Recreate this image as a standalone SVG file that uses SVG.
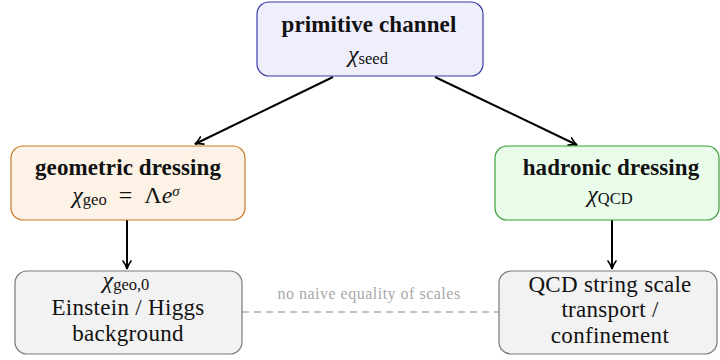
<svg xmlns="http://www.w3.org/2000/svg" width="720" height="360" viewBox="0 0 720 360" font-family="'Liberation Serif', 'DejaVu Serif', serif">
  <defs>
    <marker id="arrow" viewBox="0 0 10 10" refX="9" refY="5" markerWidth="10" markerHeight="10" markerUnits="userSpaceOnUse" orient="auto">
      <path d="M1,1 Q5,4 9,5 Q5,6 1,9" fill="none" stroke="#000" stroke-width="1.6" stroke-linecap="round"/>
    </marker>
    <style>
      text { font-family: 'Liberation Serif', 'DejaVu Serif', serif; fill: #111; text-anchor: middle; }
      .title { font-weight: bold; font-size: 23px; letter-spacing: 0.1px; }
      .body { font-size: 23px; letter-spacing: 0.3px; }
      .math { font-style: italic; font-size: 24px; }
      .sub { font-size: 16.5px; font-style: normal; }
      .sup { font-size: 15px; font-style: italic; }
      .note { font-size: 16px; fill: #a8a8a8; letter-spacing: 0.5px; }
      .box { stroke-width: 1.2; }
      .edge { stroke: #000; stroke-width: 2; fill: none; marker-end: url(#arrow); }
      .dash { stroke: #b0b0b0; stroke-width: 1.4; stroke-dasharray: 7 5; fill: none; }
    </style>
  </defs>

  <g id="connectors">
    <line class="edge" x1="333" y1="77" x2="195" y2="144"/>
    <line class="edge" x1="435" y1="77" x2="577" y2="145"/>
    <line class="edge" x1="127" y1="220" x2="127" y2="269"/>
    <line class="edge" x1="612" y1="220" x2="612" y2="269"/>
    <line class="dash" x1="242" y1="312" x2="499" y2="312"/>
    <text class="note" x="369" y="299">no naive equality of scales</text>
  </g>

  <g id="primitive-channel">
    <rect class="box" x="257" y="2" width="226" height="74" rx="12" fill="#efeffc" stroke="#3a3aa8"/>
    <text class="title" x="369" y="32">primitive channel</text>
    <text class="math" x="368" y="62">χ<tspan class="sub" dy="2">seed</tspan></text>
  </g>

  <g id="geometric-dressing">
    <rect class="box" x="11" y="146" width="234" height="74" rx="12" fill="#fdf2e6" stroke="#cc7a26"/>
    <text class="title" x="128" y="175">geometric dressing</text>
    <text class="math" x="126" y="203">χ<tspan class="sub" dy="2">geo</tspan><tspan font-style="normal" dy="-2" xml:space="preserve">  =  Λ</tspan>e<tspan class="sup" dy="-7">σ</tspan></text>
  </g>

  <g id="hadronic-dressing">
    <rect class="box" x="495" y="146" width="224" height="74" rx="12" fill="#e9fce9" stroke="#3a9e3a"/>
    <text class="title" x="611" y="175">hadronic dressing</text>
    <text class="math" x="610" y="202">χ<tspan class="sub" dy="2">QCD</tspan></text>
  </g>

  <g id="einstein-higgs-background">
    <rect class="box" x="15" y="271" width="227" height="83" rx="12" fill="#f2f2f2" stroke="#7a7a7a"/>
    <text class="math" x="126" y="288">χ<tspan class="sub" dy="2">geo,0</tspan></text>
    <text class="body" x="128" y="315">Einstein / Higgs</text>
    <text class="body" x="128" y="341">background</text>
  </g>

  <g id="qcd-string-scale">
    <rect class="box" x="499" y="271" width="218" height="83" rx="12" fill="#f2f2f2" stroke="#7a7a7a"/>
    <text class="body" x="610" y="292">QCD string scale</text>
    <text class="body" x="610" y="317">transport /</text>
    <text class="body" x="610" y="343">confinement</text>
  </g>
</svg>
